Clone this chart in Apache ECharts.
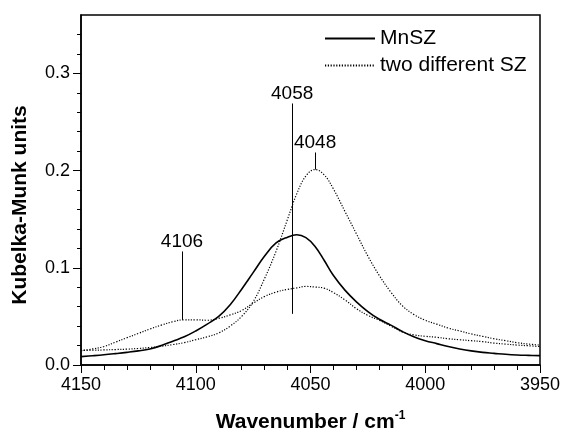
<!DOCTYPE html>
<html>
<head>
<meta charset="utf-8">
<script src="https://cdn.jsdelivr.net/npm/echarts@6/dist/echarts.min.js"></script>
<style>
html,body{margin:0;padding:0;background:#fff;}
#chart{width:561px;height:428px;}
</style>
</head>
<body>
<div id="chart"></div>
<script>
// Wavenumbers (cm^-1)
var wavenumbers = [4150, 4145, 4140, 4135, 4130, 4125, 4120, 4115, 4110, 4105, 4100, 4095, 4090, 4085, 4080, 4075, 4070, 4065, 4060, 4056, 4052, 4048, 4044, 4040, 4035, 4030, 4025, 4020, 4015, 4010, 4005, 4000, 3995, 3990, 3985, 3980, 3975, 3970, 3965, 3960, 3955, 3950];
// MnSZ (solid)
var mnsz = [0.0086, 0.0095, 0.0105, 0.0117, 0.013, 0.0145, 0.0165, 0.020, 0.0245, 0.029, 0.035, 0.042, 0.050, 0.062, 0.078, 0.095, 0.112, 0.1255, 0.1315, 0.134, 0.131, 0.122, 0.1075, 0.092, 0.077, 0.065, 0.055, 0.047, 0.041, 0.0345, 0.029, 0.025, 0.022, 0.019, 0.0165, 0.0145, 0.013, 0.012, 0.011, 0.0103, 0.0099, 0.0096];
// two different SZ: sample A (sharp band at 4048)
var szA = [0.015, 0.0152, 0.0155, 0.0159, 0.0163, 0.017, 0.018, 0.0193, 0.021, 0.023, 0.026, 0.029, 0.033, 0.040, 0.050, 0.065, 0.089, 0.117, 0.150, 0.176, 0.1945, 0.201, 0.1955, 0.181, 0.158, 0.135, 0.112, 0.092, 0.075, 0.061, 0.052, 0.046, 0.042, 0.038, 0.035, 0.032, 0.0295, 0.027, 0.025, 0.023, 0.0215, 0.0205];
// two different SZ: sample B (shoulder at 4106, broad band)
var szB = [0.0147, 0.0165, 0.019, 0.0235, 0.028, 0.0325, 0.037, 0.041, 0.0445, 0.0465, 0.0465, 0.046, 0.048, 0.0515, 0.056, 0.0635, 0.0705, 0.075, 0.0778, 0.0793, 0.0808, 0.0802, 0.079, 0.0745, 0.067, 0.058, 0.051, 0.046, 0.040, 0.034, 0.031, 0.0295, 0.0285, 0.027, 0.026, 0.025, 0.024, 0.0225, 0.0215, 0.0205, 0.0198, 0.019];

// Peak annotations: position, line bottom, line top
var peakLabels = ['4058', '4048', '4106'];
var peakPos = [4058, 4048, 4106];
var peakLineFrom = [0.0526, 0.201, 0.0464];
var peakLineTo = [0.269, 0.2186, 0.1168];

var yTickLabels = [0, 0.1, 0.2, 0.3];
var yMinorTicks = [0.02, 0.04, 0.06, 0.08, 0.12, 0.14, 0.16, 0.18, 0.22, 0.24, 0.26, 0.28, 0.32, 0.34];

var FONT = '"Liberation Sans", Arial, Helvetica, sans-serif';

function pairs(xs, ys) { return xs.map(function (x, i) { return [x, ys[i]]; }); }

var markData = peakPos.map(function (p, i) {
  return [
    { coord: [p, peakLineFrom[i]], name: peakLabels[i] },
    { coord: [p, peakLineTo[i]], name: peakLabels[i] }
  ];
});

var chart = echarts.init(document.getElementById('chart'), null, { renderer: 'canvas' });
chart.setOption({
  animation: false,
  textStyle: { fontFamily: FONT, color: '#000' },
  grid: { left: 81, right: 21, top: 15, bottom: 63, show: true, borderColor: '#000', borderWidth: 1.5, backgroundColor: 'transparent', outerBoundsMode: 'none', containLabel: false },
  legend: {
    data: ['MnSZ', 'two different SZ'],
    orient: 'vertical',
    left: 324, top: 28,
    padding: 0,
    itemGap: 6,
    itemWidth: 50, itemHeight: 14,
    selectedMode: false,
    itemStyle: { opacity: 0 },
    textStyle: { fontFamily: FONT, fontSize: 21, color: '#000', lineHeight: 21 }
  },
  xAxis: {
    type: 'value', inverse: true, min: 3950, max: 4150, interval: 50,
    name: '{a|Wavenumber / cm}{s|-1}', nameLocation: 'middle', nameGap: 45,
    nameTextStyle: { rich: {
      a: { fontFamily: FONT, fontSize: 21, fontWeight: 'bold', color: '#000', lineHeight: 24 },
      s: { fontFamily: FONT, fontSize: 12, fontWeight: 'bold', color: '#000', lineHeight: 12, verticalAlign: 'top' }
    } },
    axisLine: { show: true, onZero: false, lineStyle: { color: '#000', width: 1.5 } },
    axisTick: { show: true, length: 8, lineStyle: { color: '#000', width: 1 } },
    minorTick: { show: true, splitNumber: 5, length: 5, lineStyle: { color: '#000', width: 1 } },
    axisLabel: { fontFamily: FONT, fontSize: 18, color: '#000', margin: 11,
      formatter: function (v) { return String(v); } },
    splitLine: { show: false }
  },
  yAxis: [{
    type: 'value', min: 0, max: 0.36,
    name: 'Kubelka-Munk units', nameLocation: 'middle', nameGap: 50,
    nameTextStyle: { fontFamily: FONT, fontSize: 21, fontWeight: 'bold', color: '#000', padding: [0, 30, 0, 0] },
    axisLine: { show: true, onZero: false, lineStyle: { color: '#000', width: 1.5 } },
    axisTick: { show: true, length: 8, customValues: yTickLabels, lineStyle: { color: '#000', width: 1 } },
    axisLabel: { fontFamily: FONT, fontSize: 18, color: '#000', margin: 11, customValues: yTickLabels,
      formatter: function (v) { return v.toFixed(1); } },
    splitLine: { show: false }
  }, {
    type: 'value', min: 0, max: 0.36, position: 'left',
    axisLine: { show: false, onZero: false },
    axisTick: { show: true, length: 4, customValues: yMinorTicks, lineStyle: { color: '#000', width: 1 } },
    axisLabel: { show: false },
    splitLine: { show: false }
  }],
  series: [{
    name: 'MnSZ', type: 'line', data: pairs(wavenumbers, mnsz), smooth: 0.4,
    showSymbol: false, symbol: 'none', yAxisIndex: 0,
    lineStyle: { color: '#000', width: 1.6, type: 'solid' },
    itemStyle: { color: '#000' },
    markLine: {
      silent: true, symbol: ['none', 'none'],
      lineStyle: { color: '#000', width: 1, type: 'solid' },
      label: { show: true, position: 'end', distance: 0, formatter: '{b}', fontFamily: FONT, fontSize: 19, color: '#000' },
      emphasis: { disabled: true },
      data: markData
    }
  }, {
    name: 'two different SZ', type: 'line', data: pairs(wavenumbers, szA), smooth: 0.4,
    showSymbol: false, symbol: 'none', yAxisIndex: 0,
    lineStyle: { color: '#000', width: 1.2, type: [1.2, 1.6] },
    itemStyle: { color: '#000' }
  }, {
    name: 'two different SZ', type: 'line', data: pairs(wavenumbers, szB), smooth: 0.4,
    showSymbol: false, symbol: 'none', yAxisIndex: 0,
    lineStyle: { color: '#000', width: 1.2, type: [1.2, 1.6] },
    itemStyle: { color: '#000' }
  }]
});
</script>
</body>
</html>
